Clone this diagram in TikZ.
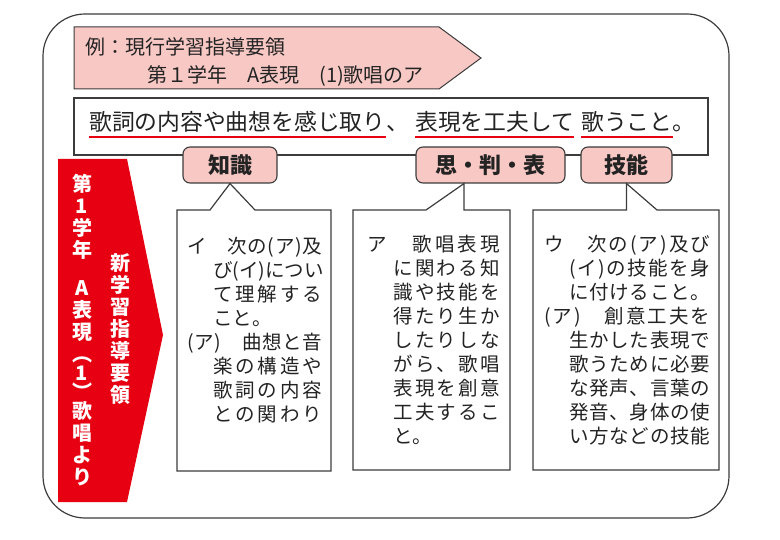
\documentclass[tikz,border=0pt]{standalone}
\usepackage{fontspec}
\setmainfont{Noto Sans CJK JP}
\usetikzlibrary{positioning}

\definecolor{pinkfill}{RGB}{247,200,196}
\definecolor{jred}{RGB}{230,0,18}
\definecolor{linegray}{RGB}{60,60,60}
\definecolor{txtgray}{RGB}{35,35,35}

% spread the characters of #2 over the width #1
\makeatletter
\newcommand\spr[2]{\hbox to #1{\@tfor\@ch:=#2\do{\@ch\hfil}\unskip}}
\makeatother
\newcommand\ind{\hspace*{26pt}}

\tikzset{
  frame/.style={draw=linegray, line width=1.2pt},
  tag/.style={draw=linegray, fill=pinkfill, line width=1.1pt, rounded corners=7pt,
    minimum height=36pt, inner sep=0pt, text=txtgray,
    font=\fontsize{22}{22}\selectfont\bfseries},
  sent/.style={inner sep=0pt, text=txtgray, font=\fontsize{22.8}{22.8}\selectfont},
  uline/.style={draw=jred, line width=2.2pt},
  boxtxt/.style={anchor=north west, inner sep=0pt, align=left, text=txtgray,
    font=\fontsize{19.5}{24}\selectfont},
  vtxt/.style={anchor=north, inner sep=0pt, align=center, text=white,
    font=\fontsize{20}{22}\selectfont\bfseries}
}

\begin{document}
\begin{tikzpicture}[x=1pt, y=-1pt]
\useasboundingbox (0,0) rectangle (780,540);

% outer frame
\draw[frame, rounded corners=42pt] (43,14) rectangle (729,518);

% banner
\draw[frame, fill=pinkfill, line width=1pt] (74,27) -- (439,27) -- (481,58) -- (439,89) -- (74,89) -- cycle;
\node[anchor=north west, inner sep=0pt, align=left, text=txtgray,
  font=\fontsize{20}{28.5}\selectfont] (bn) at (85,37)
  {例：現行学習指導要領\\\hspace*{62pt}第１学年　A表現　(1)歌唱のア};

% sentence
\draw[frame] (74,98) rectangle (708,155);
\node[sent, anchor=base west] (s1) at (89,131) {歌詞の内容や曲想を感じ取り};
\node[sent, base right=0pt of s1] (c1) {、};
\node[sent, anchor=base west] (s2) at (415,131) {表現を工夫して};
\node[sent, anchor=base west] (s3) at (581,131) {歌うこと};
\node[sent, base right=0pt of s3] (c2) {。};
\foreach \s in {s1,s2,s3}
  \draw[uline] ([yshift=-6pt]\s.base west) -- ([yshift=-6pt]\s.base east);

% red arrow
\fill[jred] (58,159) -- (127,159) -- (163,335) -- (127,502) -- (58,502) -- cycle;
\node[vtxt] (v1) at (82,174) {第\\1\\学\\年\\[16pt]A\\表\\現\\︵\\[-3pt]1\\[-3pt]︶\\[-3pt]歌\\唱\\よ\\り};
\node[vtxt] (v2) at (120,253) {新\\学\\習\\指\\導\\要\\領};

% tags
\node[tag, minimum width=94pt] (zs) at (230,165) {知識};
\node[tag, minimum width=149pt] (sh) at (490.5,165) {思・判・表};
\node[tag, minimum width=91pt] (gn) at (626.5,165) {技能};

% callout boxes
\draw[frame] (177,210) -- (210,210) -- (zs.south) -- (255,210) -- (331,210) -- (331,471) -- (177,471) -- cycle;
\draw[frame] (353,210) -- (426,210) -- ([xshift=-26.5pt]sh.south) -- (464,210) -- (510,210) -- (510,470) -- (353,470) -- cycle;
\draw[frame] (533,210) -- (626.5,210) -- (gn.south) -- (657,210) -- (719,210) -- (719,470) -- (533,470) -- cycle;

\node[boxtxt] (kt) at (187,237) {%
  \spr{135pt}{イ　次の(ア)及}\\
  \ind\spr{109pt}{び(イ)につい}\\
  \ind\spr{109pt}{て理解する}\\
  \ind こと。\\
  \spr{135pt}{(ア)　曲想と音}\\
  \ind\spr{109pt}{楽の構造や}\\
  \ind\spr{109pt}{歌詞の内容}\\
  \ind\spr{109pt}{との関わり}};
\node[boxtxt] (st) at (367,235) {%
  \spr{133pt}{ア　歌唱表現}\\
  \ind\spr{107pt}{に関わる知}\\
  \ind\spr{107pt}{識や技能を}\\
  \ind\spr{107pt}{得たり生か}\\
  \ind\spr{107pt}{したりしな}\\
  \ind\spr{107pt}{がら、歌唱}\\
  \ind\spr{107pt}{表現を創意}\\
  \ind\spr{107pt}{工夫するこ}\\
  \ind と。};
\node[boxtxt] (gt) at (544,235) {%
  \spr{166pt}{ウ　次の(ア)及び}\\
  \hspace*{25pt}\spr{141pt}{(イ)の技能を身}\\
  \hspace*{25pt}\spr{141pt}{に付けること。}\\
  \spr{166pt}{(ア)　創意工夫を}\\
  \hspace*{25pt}\spr{141pt}{生かした表現で}\\
  \hspace*{25pt}\spr{141pt}{歌うために必要}\\
  \hspace*{25pt}\spr{141pt}{な発声、言葉の}\\
  \hspace*{25pt}\spr{141pt}{発音、身体の使}\\
  \hspace*{25pt}\spr{141pt}{い方などの技能}};
\end{tikzpicture}
\end{document}
